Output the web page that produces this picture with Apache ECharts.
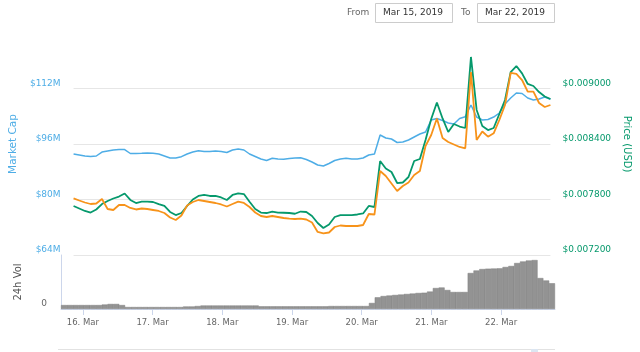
<!DOCTYPE html>
<html>
<head>
<meta charset="utf-8">
<script src="https://cdn.jsdelivr.net/npm/echarts@6/dist/echarts.min.js"></script>
<style>
html,body{margin:0;padding:0;background:#fff;}
#c{width:640px;height:352px;}
</style>
</head>
<body>
<div id="c"></div>
<script>
// Sampling: every 2 hours from Mar 15 2019 17:30 to Mar 22 2019 17:30 (85 samples)
const startTime = new Date(2019, 2, 15, 17, 30).getTime();
const stepMs = 2 * 3600 * 1000;
const dayTicks = ['16. Mar','17. Mar','18. Mar','19. Mar','20. Mar','21. Mar','22. Mar'];

// Market Cap (USD millions)
const marketCap = [93.12,92.83,92.54,92.40,92.54,93.69,93.98,94.27,94.41,94.41,
93.26,93.26,93.32,93.40,93.32,93.12,92.54,91.96,91.96,92.34,
93.12,93.69,94.07,93.84,93.84,93.98,93.84,93.55,94.27,94.56,
94.27,93.12,92.40,91.68,91.24,91.88,91.68,91.59,91.82,91.96,
92.05,91.53,90.81,89.95,89.66,90.38,91.24,91.68,91.88,91.68,
91.68,91.96,92.83,93.12,98.59,97.73,97.44,96.43,96.58,97.15,
98.02,98.88,99.46,102.92,103.35,102.77,102.05,101.77,103.35,103.87,
107.24,103.78,102.92,103.06,103.78,104.94,107.53,109.26,110.70,110.56,
109.26,108.68,108.97,109.55,108.89];

// Price (USD)
const priceUsd = [0.007730,0.007703,0.007676,0.007659,0.007692,0.007751,0.007784,0.007811,0.007832,0.007865,
0.007795,0.007762,0.007776,0.007778,0.007773,0.007751,0.007730,0.007665,0.007632,0.007654,
0.007730,0.007800,0.007838,0.007849,0.007838,0.007838,0.007822,0.007795,0.007849,0.007867,
0.007859,0.007776,0.007697,0.007659,0.007654,0.007668,0.007659,0.007657,0.007654,0.007646,
0.007670,0.007665,0.007622,0.007546,0.007492,0.007530,0.007611,0.007632,0.007632,0.007632,
0.007638,0.007649,0.007730,0.007719,0.008216,0.008135,0.008097,0.007978,0.007984,0.008043,
0.008216,0.008238,0.008443,0.008670,0.008849,0.008676,0.008530,0.008616,0.008589,0.008573,
0.009341,0.008768,0.008595,0.008551,0.008573,0.008724,0.008876,0.009178,0.009243,0.009164,
0.009049,0.009027,0.008962,0.008914,0.008887];

// Price (BTC), in satoshi
const priceBtcSat = [200.43,199.64,198.92,198.38,198.56,200.18,196.58,196.22,198.02,198.02,
196.94,196.40,196.76,196.58,196.22,195.86,195.14,193.51,192.61,194.23,
197.84,199.10,199.82,199.46,199.10,198.74,198.20,197.48,198.38,199.21,
198.74,197.30,195.32,194.05,193.69,194.05,193.69,193.33,193.08,192.97,
193.08,192.79,191.71,188.29,187.82,188.11,190.09,190.63,190.45,190.45,
190.45,190.81,194.77,194.59,210.27,208.47,205.77,203.06,204.86,206.13,
208.83,210.27,219.28,223.24,229.19,222.16,220.72,219.82,218.92,218.45,
245.95,221.44,224.50,222.63,223.86,228.65,234.05,245.59,245.23,243.06,
238.85,238.85,234.77,233.33,234.05];

// 24h Volume (USD millions)
const volume24h = [0.44,0.44,0.44,0.44,0.44,0.44,0.44,0.50,0.56,0.56,
0.44,0.22,0.22,0.22,0.22,0.22,0.22,0.22,0.22,0.22,
0.22,0.28,0.28,0.33,0.39,0.39,0.39,0.39,0.39,0.39,
0.39,0.39,0.39,0.39,0.30,0.30,0.30,0.30,0.30,0.30,
0.30,0.30,0.30,0.30,0.30,0.30,0.33,0.33,0.33,0.33,
0.33,0.33,0.33,0.67,1.30,1.44,1.50,1.56,1.61,1.67,
1.72,1.78,1.81,1.94,2.33,2.39,2.11,1.89,1.89,1.89,
4.00,4.28,4.44,4.48,4.50,4.52,4.67,4.78,5.11,5.28,
5.39,5.44,3.44,3.17,2.86];

const times = marketCap.map((_, i) => startTime + i * stepMs);
const pair = arr => arr.map((v, i) => [times[i], v]);
const xMin = startTime;
const xMax = startTime + (marketCap.length - 1) * stepMs;

const FONT = 'DejaVu Sans';
const BLUE = '#4eade6';
const GREEN = '#06996c';
const ORANGE = '#f7931a';

const chart = echarts.init(document.getElementById('c'), null, {renderer: 'canvas'});
chart.setOption({
  animation: false,
  textStyle: {fontFamily: FONT},
  grid: [
    {left: 61, right: 85, top: 33, height: 222},
    {left: 61, right: 85, top: 255, height: 54}
  ],
  xAxis: [
    {type: 'time', gridIndex: 0, min: xMin, max: xMax, show: false,
     minInterval: 86400000, maxInterval: 86400000, splitLine: {show: false}},
    {type: 'time', gridIndex: 1, min: xMin, max: xMax,
     minInterval: 86400000, maxInterval: 86400000,
     axisLine: {show: true, lineStyle: {color: '#ccd6eb'}},
     axisTick: {show: true, length: 6, lineStyle: {color: '#ccd6eb'}},
     splitLine: {show: false},
     axisLabel: {
       color: '#666', fontSize: 8.5, fontFamily: FONT, margin: 9,
       showMinLabel: false, showMaxLabel: false,
       formatter: function (v) {
         const d = new Date(v);
         const label = d.getDate() + '. Mar';
         return dayTicks.indexOf(label) >= 0 ? label : '';
       }
     }}
  ],
  yAxis: [
    {type: 'value', gridIndex: 0, min: 64, max: 128, interval: 16, position: 'left',
     name: 'Market Cap', nameLocation: 'middle', nameGap: 50, nameRotate: 90,
     nameTextStyle: {color: BLUE, fontSize: 10.5, fontFamily: FONT},
     axisLine: {show: false}, axisTick: {show: false},
     axisLabel: {color: BLUE, fontSize: 9, fontFamily: FONT, margin: 13, showMaxLabel: false,
       verticalAlign: 'bottom', lineHeight: 10, formatter: v => '$' + v + 'M'},
     splitLine: {show: true, lineStyle: {color: ['#e6e6e6', '#e6e6e6', '#e6e6e6', '#e6e6e6', 'rgba(0,0,0,0)'], width: 1}}},
    {type: 'value', gridIndex: 0, min: 0.0072, max: 0.0096, interval: 0.0006, position: 'right',
     name: 'Price (USD)', nameLocation: 'middle', nameGap: 66, nameRotate: -90,
     nameTextStyle: {color: GREEN, fontSize: 10, fontFamily: FONT},
     axisLine: {show: false}, axisTick: {show: false}, splitLine: {show: false},
     axisLabel: {color: GREEN, fontSize: 9, fontFamily: FONT, margin: 12, showMaxLabel: false,
       verticalAlign: 'bottom', lineHeight: 10, formatter: v => '$' + v.toFixed(6)}},
    {type: 'value', gridIndex: 0, min: 180, max: 260, show: false, splitLine: {show: false}},
    {type: 'value', gridIndex: 1, min: 0, max: 6, interval: 6, position: 'left',
     name: '24h Vol', nameLocation: 'middle', nameGap: 38, nameRotate: 90,
     nameTextStyle: {color: '#555', fontSize: 10, fontFamily: FONT},
     axisLine: {show: true, lineStyle: {color: '#ccd6eb'}}, axisTick: {show: false},
     splitLine: {show: false},
     axisLabel: {color: '#666', fontSize: 9, fontFamily: FONT, margin: 14,
       verticalAlign: 'bottom', lineHeight: 10, formatter: v => (v === 0 ? '0' : '')}}
  ],
  series: [
    {name: 'Market Cap', type: 'line', xAxisIndex: 0, yAxisIndex: 0, data: pair(marketCap),
     showSymbol: false, lineStyle: {color: BLUE, width: 1.5}, itemStyle: {color: BLUE}, z: 2},
    {name: 'Price (USD)', type: 'line', xAxisIndex: 0, yAxisIndex: 1, data: pair(priceUsd),
     showSymbol: false, lineStyle: {color: GREEN, width: 1.8}, itemStyle: {color: GREEN}, z: 3},
    {name: 'Price (BTC)', type: 'line', xAxisIndex: 0, yAxisIndex: 2, data: pair(priceBtcSat),
     showSymbol: false, lineStyle: {color: ORANGE, width: 1.8}, itemStyle: {color: ORANGE}, z: 4},
    {name: '24h Vol', type: 'bar', xAxisIndex: 1, yAxisIndex: 3, data: pair(volume24h),
     barWidth: 6, itemStyle: {color: '#939393', borderColor: '#7e7e7e', borderWidth: 0.5}}
  ],
  graphic: [
    {type: 'text', left: 347, top: 8, style: {text: 'From', fill: '#666', font: '9px "DejaVu Sans"'}},
    {type: 'rect', shape: {x: 375.5, y: 3.5, width: 77, height: 19}, style: {fill: '#fff', stroke: '#cccccc', lineWidth: 1}},
    {type: 'text', left: 383, top: 8, style: {text: 'Mar 15, 2019', fill: '#333', font: '9px "DejaVu Sans"'}},
    {type: 'text', left: 461, top: 8, style: {text: 'To', fill: '#666', font: '9px "DejaVu Sans"'}},
    {type: 'rect', shape: {x: 477.5, y: 3.5, width: 77, height: 19}, style: {fill: '#fff', stroke: '#cccccc', lineWidth: 1}},
    {type: 'text', left: 485, top: 8, style: {text: 'Mar 22, 2019', fill: '#333', font: '9px "DejaVu Sans"'}},
    {type: 'line', shape: {x1: 58, y1: 349.5, x2: 555, y2: 349.5}, style: {stroke: '#e2e2e2', lineWidth: 1}},
    {type: 'rect', shape: {x: 531, y: 349, width: 7, height: 3}, style: {fill: '#dce6f2'}}
  ]
});
</script>
</body>
</html>
